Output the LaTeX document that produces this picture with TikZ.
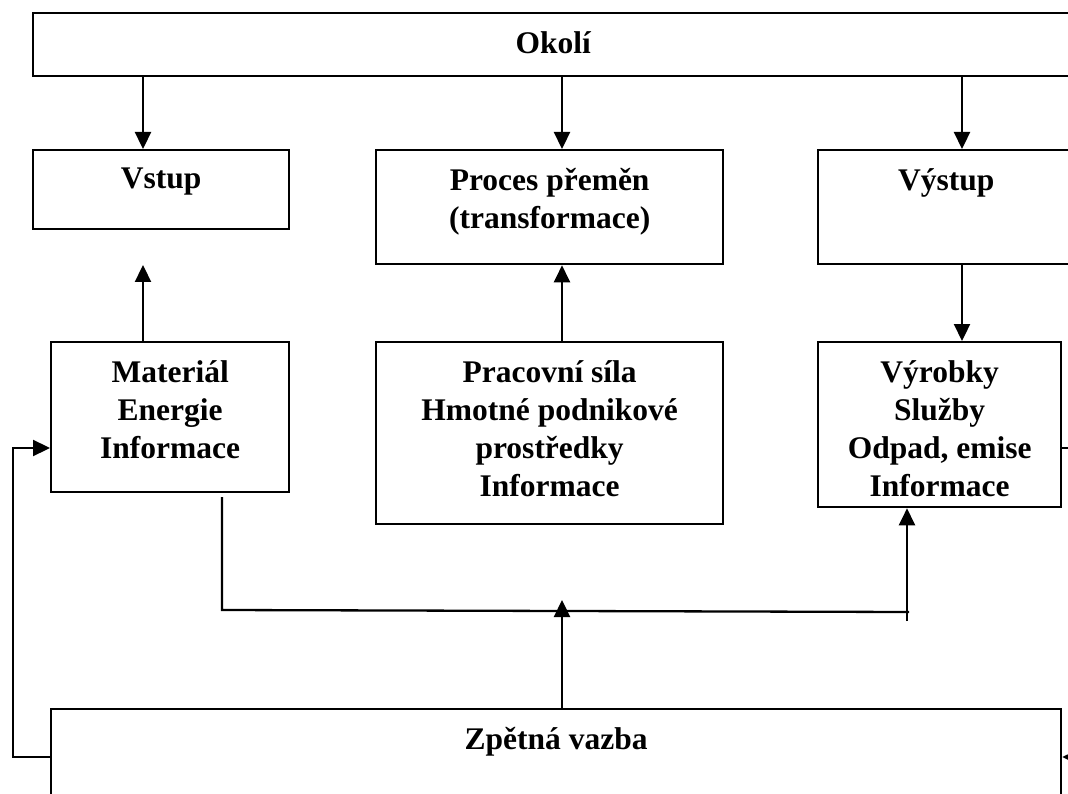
\documentclass[tikz,border=0pt]{standalone}
\usepackage{fontspec}
\setmainfont{Liberation Serif}
\usetikzlibrary{arrows.meta}

\tikzset{
  blok/.style={draw, line width=2.3pt, anchor=north west, inner sep=0pt},
  napis/.style={anchor=north, yshift=-19pt, align=center, inner sep=0pt, font=\bfseries\fontsize{31.5}{38}\selectfont},
  sip/.style={line width=2.3pt, -{Triangle[length=17pt,width=16pt]}},
  car/.style={line width=2.3pt}
}

\begin{document}
\begin{tikzpicture}[x=1pt,y=-1pt]
\useasboundingbox (0,0) rectangle (1068,794);
\clip (0,0) rectangle (1068,794);
\node[blok, minimum width=1040pt, minimum height=63pt, label={[napis]north:Okolí}] (okoli) at (32,12){};
\node[blok, minimum width=256pt, minimum height=79pt, label={[napis]north:Vstup}] (vstup) at (32,149){};
\node[blok, minimum width=347pt, minimum height=114pt, label={[napis]north:Proces přeměn\\(transformace)}] (proces) at (375,149){};
\node[blok, minimum width=256pt, minimum height=114pt, label={[napis]north:Výstup}] (vystup) at (817,149){};
\node[blok, minimum width=238pt, minimum height=150pt, label={[napis]north:Materiál\\Energie\\Informace}] (material) at (50,341){};
\node[blok, minimum width=347pt, minimum height=182pt, label={[napis]north:Pracovní síla\\Hmotné podnikové\\prostředky\\Informace}] (pracovni) at (375,341){};
\node[blok, minimum width=243pt, minimum height=165pt, label={[napis]north:Výrobky\\Služby\\Odpad, emise\\Informace}] (vyrobky) at (817,341){};
\node[blok, minimum width=1010pt, minimum height=120pt, label={[napis]north:Zpětná vazba}] (zpetna) at (50,708){};
\coordinate (k1) at (143,0);
\coordinate (k2) at (562,0);
\coordinate (k3) at (962,0);
\coordinate (sipka) at (143,265);
\coordinate (h1) at (222,497);
\coordinate (h2) at (222,610);
\coordinate (h3) at (909,612);
\coordinate (h4) at (907,621);
\coordinate (stred) at (562,600);
\coordinate (zl) at (13,757);
\coordinate (zh) at (13,448);
\coordinate (pr1) at (1075,448);
\coordinate (pr2) at (1075,757);
\draw[sip] (okoli.south -| k1) -- (vstup.north -| k1);
\draw[sip] (okoli.south -| k2) -- (proces.north -| k2);
\draw[sip] (okoli.south -| k3) -- (vystup.north -| k3);
\draw[sip] (material.north -| k1) -- (sipka);
\draw[sip] (pracovni.north -| k2) -- (proces.south -| k2);
\draw[sip] (vystup.south -| k3) -- (vyrobky.north -| k3);
\draw[car] (h1) -- (h2) -- (h3);
\draw[sip] (h4) -- (vyrobky.south -| h4);
\draw[sip] (zpetna.north -| k2) -- (stred);
\draw[sip] (zpetna.west |- zl) -- (zl) -- (zh) -- (material.west |- zh);
\draw[sip] (pr2) -- (zpetna.east |- pr2);
\draw[car] (vyrobky.east |- pr1) -- (pr1);
\end{tikzpicture}
\end{document}
